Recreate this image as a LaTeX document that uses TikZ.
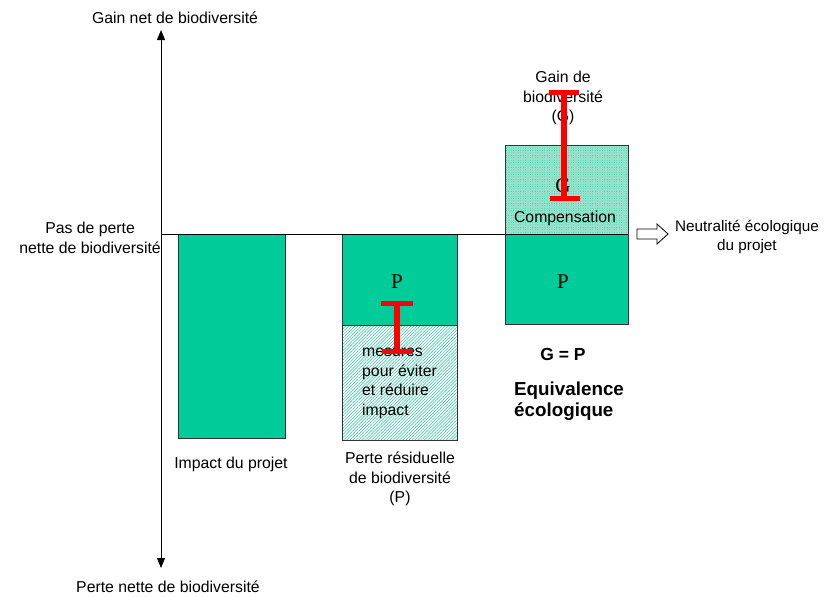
\documentclass[tikz,border=0pt]{standalone}
\usepackage{fontspec}
\setmainfont{Liberation Sans}
\newfontfamily\serifP{Liberation Serif}
\usetikzlibrary{arrows.meta,patterns.meta}
\definecolor{teal1}{RGB}{0,204,153}
\definecolor{tealhatch}{RGB}{40,190,150}
\definecolor{teallight}{RGB}{150,228,205}
\tikzset{
  lbl/.style={font=\fontsize{15.8}{19.5}\selectfont, align=center, inner sep=0pt},
  lbll/.style={font=\fontsize{15.8}{19.5}\selectfont, align=left, inner sep=0pt},
  bigP/.style={font=\serifP\fontsize{21}{24}\selectfont, inner sep=0pt},
  solidbox/.style={draw=black!80, line width=0.8pt, fill=teal1},
  hatchbox/.style={draw=black!80, line width=0.8pt, fill=white,
     pattern={Lines[angle=45,distance=2.2pt,line width=0.5pt]}, pattern color=tealhatch},
  dotbox/.style={draw=black!80, line width=0.8pt, fill=teallight},
  ibar/.style={draw=red, line width=5pt},
  istem/.style={draw=red, line width=6pt},
  axis/.style={line width=1pt, -{Triangle[length=10pt,width=8pt]}},
}
\begin{document}
\begin{tikzpicture}[x=1pt,y=-1pt]
\useasboundingbox (0,0) rectangle (825,597);
% vertical axis
\coordinate (o) at (161,234);
\coordinate (top) at (161,30);
\coordinate (bot) at (161,568);
\draw[axis] (o) -- (top);
\draw[axis] (o) -- (bot);
% boxes
\draw[solidbox] (178,234) rectangle (285,438);
\draw[solidbox] (342,234) rectangle (457,325);
\draw[hatchbox] (342,325) rectangle (457,440);
\draw[dotbox] (505,145) rectangle (628,234);
\fill[pattern={Dots[distance=2.4pt,radius=0.45pt]}, pattern color=tealhatch] (505,145) rectangle (628,234);
\draw[line width=0.8pt, draw=black!80] (505,145) rectangle (628,234);
\draw[solidbox] (505,234) rectangle (628,324);
% zero line
\coordinate (zr) at (628,234);
\draw[line width=1pt] (o) -- (zr);
% axis labels
\node[lbl] (gainnet) at (175,18) {Gain net de biodiversité};
\node[lbl] (perte) at (168,587) {Perte nette de biodiversité};
\node[lbl, anchor=east] (pas) at (161,238) {Pas de perte\\nette de biodiversité};
% box labels
\node[lbl] (impact) at (231,464) {Impact du projet};
\node[lbl] (resid) at (400,479) {Perte résiduelle\\de biodiversité\\(P)};
\node[bigP] (p1) at (397,282) {P};
\node[bigP] (p2) at (563,282) {P};
\node[lbll, anchor=north west] (mes) at (362,348) {mesures\\pour éviter\\et réduire\\impact};
\node[lbl] (gainde) at (563,98) {Gain de\\biodiversité\\(G)};
\node[bigP] (g) at (563,186) {G};
\node[lbl] (comp) at (565,218) {Compensation};
% I-bars
\coordinate (m1) at (397,303);
\coordinate (m2) at (397,351);
\draw[istem] (m1) -- (m2);
\draw[ibar] ([xshift=-16pt]m1) -- ([xshift=16pt]m1);
\draw[ibar] ([xshift=-15pt]m2) -- ([xshift=16pt]m2);
\coordinate (r1) at (564,92);
\coordinate (r2) at (564,198);
\draw[istem] (r1) -- (r2);
\draw[ibar] ([xshift=-15pt]r1) -- ([xshift=15pt]r1);
\draw[ibar] ([xshift=-14pt]r2) -- ([xshift=16pt]r2);
% outline arrow
\draw[line width=0.8pt, fill=white] (637,229) -- (657,229) -- (657,224) -- (668,234)
   -- (657,244) -- (657,239) -- (637,239) -- cycle;
\node[lbl, font=\fontsize{15.3}{19.5}\selectfont] (neutr) at (747,237) {Neutralité écologique\\du projet};
% equivalence
\node[font=\bfseries\fontsize{17.5}{20}\selectfont, inner sep=0pt] (gp) at (563,354) {G = P};
\node[font=\bfseries\fontsize{18.8}{21}\selectfont, align=left, inner sep=0pt, anchor=west] (equiv) at (514,401) {Equivalence\\écologique};
\end{tikzpicture}
\end{document}
